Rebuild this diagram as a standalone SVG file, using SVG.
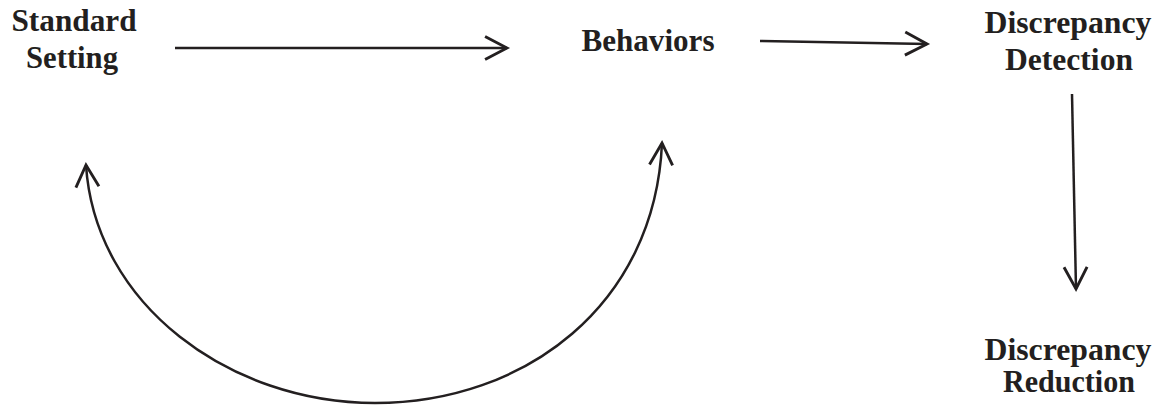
<svg xmlns="http://www.w3.org/2000/svg" width="1165" height="408" viewBox="0 0 1165 408">
<style>
.lbl{font-family:"Liberation Serif","Times New Roman",serif;font-weight:bold;font-size:31px;fill:#231f20;text-anchor:middle}
.con{fill:none;stroke:#231f20;stroke-width:2.5}
</style>
<defs>
<marker id="ah" markerUnits="userSpaceOnUse" markerWidth="30" markerHeight="30" viewBox="-22 -12 26 24" refX="0" refY="0" orient="auto-start-reverse">
<path d="M-19,-10 L0,0 L-19,10" fill="none" stroke="#231f20" stroke-width="2.5"/>
</marker>
</defs>
<rect width="1165" height="408" fill="#fff"/>
<g id="connectors">
<path class="con" d="M175,48 L507,48" marker-end="url(#ah)"/>
<path class="con" d="M760,41 L927,44" marker-end="url(#ah)"/>
<path class="con" d="M1072,94 L1076,289" marker-end="url(#ah)"/>
<path class="con" d="M86,165 C95,305 230,403 375,403 C525,403 655,305 662,143" marker-start="url(#ah)" marker-end="url(#ah)"/>
</g>
<g id="standard-setting">
<text class="lbl" x="74" y="31" textLength="125" lengthAdjust="spacingAndGlyphs">Standard</text>
<text class="lbl" x="72" y="68" textLength="92" lengthAdjust="spacingAndGlyphs">Setting</text>
</g>
<g id="behaviors">
<text class="lbl" x="648" y="51" textLength="133" lengthAdjust="spacingAndGlyphs">Behaviors</text>
</g>
<g id="discrepancy-detection">
<text class="lbl" x="1068" y="33" textLength="167" lengthAdjust="spacingAndGlyphs">Discrepancy</text>
<text class="lbl" x="1069" y="70" textLength="128" lengthAdjust="spacingAndGlyphs">Detection</text>
</g>
<g id="discrepancy-reduction">
<text class="lbl" x="1068" y="360" textLength="167" lengthAdjust="spacingAndGlyphs">Discrepancy</text>
<text class="lbl" x="1069" y="392" textLength="132" lengthAdjust="spacingAndGlyphs">Reduction</text>
</g>
</svg>
